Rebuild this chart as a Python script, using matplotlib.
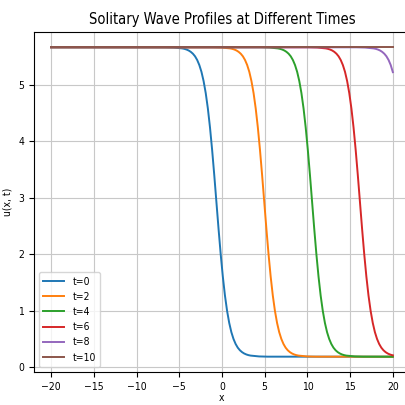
import numpy as np
import matplotlib
matplotlib.use('Agg')
import matplotlib.pyplot as plt

plt.rcParams['font.family'] = ['DejaVu Sans']
plt.rcParams['font.stretch'] = 'condensed'

# profile shape (offset from the wave centre -> u)
offsets = [-6, -5, -4, -3.75, -3.5, -3.25, -3, -2.75, -2.5, -2.25, -2, -1.75,
           -1.5, -1.25, -1, -0.75, -0.5, -0.25, 0, 0.25, 0.5, 0.75, 1, 1.25,
           1.5, 1.75, 2, 2.25, 2.5, 2.75, 3, 3.25, 3.5, 3.75, 4, 5, 6]
profile = [5.659, 5.655, 5.640, 5.632, 5.620, 5.603, 5.579, 5.546, 5.500,
           5.435, 5.346, 5.226, 5.063, 4.850, 4.578, 4.242, 3.845, 3.399,
           2.925, 2.451, 2.005, 1.608, 1.272, 1.000, 0.787, 0.624, 0.504,
           0.415, 0.350, 0.304, 0.271, 0.247, 0.230, 0.218, 0.210, 0.195, 0.191]

times = [0, 2, 4, 6, 8, 10]
centers = [-0.65, 4.95, 10.55, 16.15, 21.75, 27.35]
u_left = [5.66, 5.66, 5.66, 5.66, 5.66, 5.66]     # value at x=-20
u_right = [0.19, 0.19, 0.19, 0.215, 5.22, 5.66]   # value at x=20
x_min, x_max = -20, 20

fig = plt.figure(figsize=(4.06, 4.05), dpi=100)
ax = fig.add_axes([0.0837, 0.0815, 0.926, 0.8395])

offsets = np.array(offsets)
profile = np.array(profile)
for t, c, ul, ur in zip(times, centers, u_left, u_right):
  xs = c + offsets
  keep = (xs > x_min) & (xs < x_max)
  x = np.concatenate([[x_min], xs[keep], [x_max]])
  u = np.concatenate([[ul], profile[keep], [ur]])
  ax.plot(x, u, label='t=%d' % t, lw=1.4)

ax.set_xlim(-22, 22)
ax.set_ylim(-0.08, 5.93)
ax.set_xticks([-20, -15, -10, -5, 0, 5, 10, 15, 20])
ax.set_yticks([0, 1, 2, 3, 4, 5])
ax.tick_params(labelsize=7.5)
ax.set_title('Solitary Wave Profiles at Different Times', fontsize=10.5)
ax.set_xlabel('x', fontsize=7.5, labelpad=1)
ax.set_ylabel('u(x, t)', fontsize=7.5)
ax.legend(loc='lower left', fontsize=7.5)
ax.grid(True, color='#c8c8c8')

fig.savefig('out.png', dpi=100)
